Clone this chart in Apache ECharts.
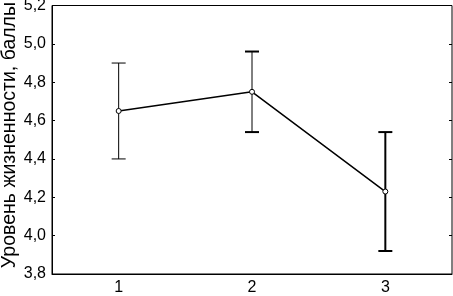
<!DOCTYPE html>
<html><head><meta charset="utf-8">
<script src="https://cdn.jsdelivr.net/npm/echarts@6/dist/echarts.min.js"></script>
<style>html,body{margin:0;padding:0;background:#fff}#c{width:453px;height:296px}</style>
</head><body><div id="c"></div>
<script>
const categories = ['1', '2', '3'];
const means = [4.65, 4.75, 4.23];
const upper = [4.90, 4.96, 4.54];
const lower = [4.40, 4.54, 3.92];
const yTicks = ['3,8','4,0','4,2','4,4','4,6','4,8','5,0','5,2'];
const yTitle = 'Уровень жизненности, баллы';

const stemWidths = [1, 1, 2];
const capWidths = [1, 2, 2];

const chart = echarts.init(document.getElementById('c'), null, {renderer: 'canvas'});
const font = 'Liberation Sans, Arial, sans-serif';
const errData = categories.map((c, i) => [i, lower[i], upper[i]]);

chart.setOption({
  animation: false,
  grid: {left: 52, right: 1, top: 5.5, bottom: 22, show: true, borderColor: '#000', borderWidth: 1,
         containLabel: false, outerBoundsMode: 'none'},
  graphic: [{
    type: 'text', left: 0, top: 2, rotation: Math.PI / 2, z: 10,
    style: {text: yTitle, fill: '#000', font: '19.5px ' + font}
  }],
  xAxis: [{
    type: 'category', data: categories, boundaryGap: true,
    axisLine: {lineStyle: {color: '#000', width: 1}},
    axisTick: {inside: true, alignWithLabel: true, length: 3, lineStyle: {color: '#000'}},
    axisLabel: {color: '#000', fontFamily: font, fontSize: 16, margin: 6}
  }, {
    type: 'category', data: categories, position: 'top', boundaryGap: true,
    axisLine: {show: false},
    axisTick: {inside: true, alignWithLabel: true, length: 3, lineStyle: {color: '#000'}},
    axisLabel: {show: false}
  }],
  yAxis: [{
    type: 'value', min: 3.8, max: 5.2, interval: 0.2,
    axisLine: {show: true, lineStyle: {color: '#000', width: 1}},
    axisTick: {show: true, inside: true, length: 3, lineStyle: {color: '#000'}},
    splitLine: {show: false},
    axisLabel: {color: '#000', fontFamily: font, fontSize: 16, margin: 6,
      formatter: (v) => yTicks[Math.round((v - 3.8) / 0.2)] || ''}
  }, {
    type: 'value', min: 3.8, max: 5.2, interval: 0.2, position: 'right',
    axisLine: {show: false},
    axisTick: {show: true, inside: true, length: 3, lineStyle: {color: '#000'}},
    splitLine: {show: false},
    axisLabel: {show: false}
  }],
  series: [{
    type: 'custom',
    data: errData,
    renderItem: function (params, api) {
      const i = api.value(0);
      const lo = api.coord([i, api.value(1)]);
      const hi = api.coord([i, api.value(2)]);
      const hw = 7;
      const sw = stemWidths[params.dataIndex];
      const cw = capWidths[params.dataIndex];
      const st = {stroke: '#000', lineWidth: sw};
      const ct = {stroke: '#000', lineWidth: cw};
      return {type: 'group', children: [
        {type: 'line', shape: {x1: lo[0], y1: lo[1], x2: hi[0], y2: hi[1]}, style: st},
        {type: 'line', shape: {x1: lo[0] - hw, y1: lo[1], x2: lo[0] + hw, y2: lo[1]}, style: ct},
        {type: 'line', shape: {x1: hi[0] - hw, y1: hi[1], x2: hi[0] + hw, y2: hi[1]}, style: ct}
      ]};
    },
    z: 2
  }, {
    type: 'line', data: means,
    symbol: 'circle', symbolSize: 5,
    lineStyle: {color: '#000', width: 1.5},
    itemStyle: {color: '#fff', borderColor: '#000', borderWidth: 1},
    z: 3
  }]
});
</script></body></html>
